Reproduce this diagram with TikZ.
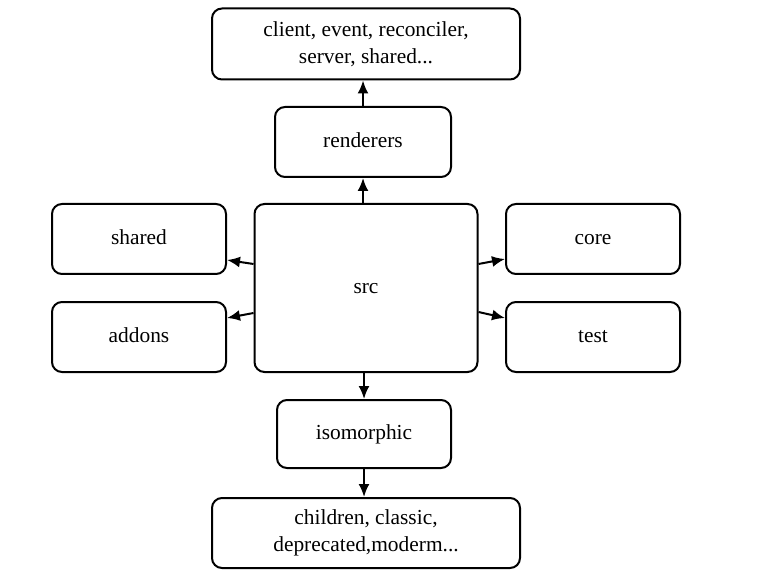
\documentclass[tikz,border=0pt]{standalone}
\usepackage{fontspec}
\setmainfont{Liberation Serif}
\usetikzlibrary{arrows.meta}
\begin{document}
\begin{tikzpicture}[
		x=0.5pt, y=-0.5pt,
		every node/.style={
				font=\fontsize{10.7}{13.5}\selectfont,
			},
		dir/.style={draw, line width=1pt, rounded corners=5pt, align=center, inner sep=0pt},
		leaf/.style={dir, text height=1.6ex, text depth=.4ex},
		link/.style={-{Latex[length=6.5pt,width=5.5pt]}, line width=1pt},]
	\useasboundingbox (0,0) rectangle (764,582);
	\node[dir, minimum width=154pt, minimum height=35.5pt] (libs) at (366,44) {client, event, reconciler,\\server, shared...};
	\node[leaf, minimum width=88pt, minimum height=35pt] (renderers) at (363,142) {renderers};
	\node[leaf, minimum width=111.5pt, minimum height=84pt] (src) at (366,288) {src};
	\node[leaf, minimum width=87pt, minimum height=35pt] (shared) at (139,239) {shared};
	\node[leaf, minimum width=87pt, minimum height=35pt] (addons) at (139,337) {addons};
	\node[leaf, minimum width=87pt, minimum height=35pt] (core) at (593,239) {core};
	\node[leaf, minimum width=87pt, minimum height=35pt] (test) at (593,337) {test};
	\node[leaf, minimum width=87pt, minimum height=34pt] (isomorphic) at (364,434) {isomorphic};
	\node[dir, minimum width=154pt, minimum height=35pt] (addons2) at (366,533) {children, classic,\\deprecated,moderm...};
	% up and down the middle
	\draw[link] (src.north -| renderers) -- (renderers.south);
	\draw[link] (renderers.north) -- (renderers.north |- libs.south);
	\draw[link] (src.south -| isomorphic) -- (isomorphic.north);
	\draw[link] (isomorphic.south) -- (isomorphic.south |- addons2.north);
	% to the sides
	\draw[link] ([yshift=12pt]src.west) -- ([yshift=-10.5pt]shared.east);
	\draw[link] ([yshift=-12.5pt]src.west) -- ([yshift=9.5pt]addons.east);
	\draw[link] ([yshift=12pt]src.east) -- ([yshift=-10pt]core.east -| core.west);
	\draw[link] ([yshift=-12pt]src.east) -- ([yshift=9.5pt]test.west);
\end{tikzpicture}
\end{document}
